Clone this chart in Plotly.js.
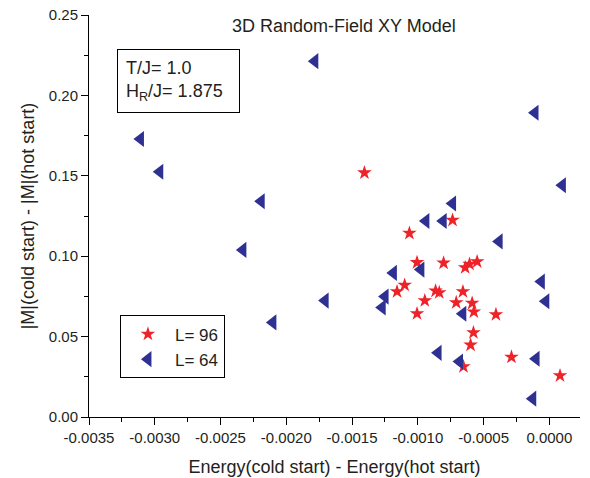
<!DOCTYPE html>
<html>
<head>
<meta charset="utf-8">
<script src="https://cdn.plot.ly/plotly-3.0.1.min.js"></script>
<style>
  html, body { margin: 0; padding: 0; background: #fff; }
  #chart { width: 590px; height: 478px; }
</style>
</head>
<body>
<div id="chart"></div>
<script>
// L = 96 (red stars)
const x96 = [-0.001406, -0.000736, -0.001064, -0.001006, -0.000804, -0.000640, -0.000607, -0.000549,
             -0.001100, -0.001158, -0.000865, -0.000837, -0.000657, -0.000947, -0.000708, -0.000587,
             -0.001006, -0.000574, -0.000406, -0.000577, -0.000599, -0.000288, -0.000653, 0.000081];
const y96 = [0.1519, 0.1224, 0.1143, 0.0961, 0.0958, 0.0929, 0.0951, 0.0966,
             0.0820, 0.0780, 0.0784, 0.0774, 0.0780, 0.0724, 0.0712, 0.0708,
             0.0643, 0.0654, 0.0637, 0.0525, 0.0448, 0.0373, 0.0314, 0.0257];

// L = 64 (blue left triangles)
const x64 = [-0.001783, -0.000109, -0.003109, -0.002962, 0.000099, -0.002191, -0.000736, -0.000939,
             -0.000807, -0.000382, -0.002330, -0.000977, -0.001186, -0.000061, -0.001705, -0.001249,
             -0.001271, -0.000027, -0.000658, -0.002102, -0.000846, -0.000101, -0.000683, -0.000126];
const y64 = [0.2213, 0.1892, 0.1729, 0.1525, 0.1441, 0.1342, 0.1328, 0.1219,
             0.1219, 0.1092, 0.1039, 0.0917, 0.0896, 0.0842, 0.0724, 0.0749,
             0.0681, 0.0720, 0.0642, 0.0588, 0.0399, 0.0362, 0.0345, 0.0114];

const seriesNames = ['L= 96', 'L= 64'];
const xTickVals = [-0.0035, -0.0030, -0.0025, -0.0020, -0.0015, -0.0010, -0.0005, 0.0000];
const xTickText = ['-0.0035', '-0.0030', '-0.0025', '-0.0020', '-0.0015', '-0.0010', '-0.0005', '0.0000'];
const yTickVals = [0.00, 0.05, 0.10, 0.15, 0.20, 0.25];
const yTickText = ['0.00', '0.05', '0.10', '0.15', '0.20', '0.25'];

const FONT = '"Liberation Sans", Arial, Helvetica, sans-serif';
const INK = '#231f20';

const traces = [
  {
    x: x96, y: y96, name: seriesNames[0], type: 'scatter', mode: 'markers',
    marker: { symbol: 'star', size: 11, color: '#ee2229', line: { width: 0 } }
  },
  {
    x: x64, y: y64, name: seriesNames[1], type: 'scatter', mode: 'markers',
    marker: { symbol: 'triangle-left', size: 14, color: '#2e3192', line: { width: 0 } }
  }
];

const layout = {
  width: 590, height: 478,
  margin: { l: 89, r: 10, t: 15, b: 61 },
  paper_bgcolor: '#fff', plot_bgcolor: '#fff',
  font: { family: FONT, color: INK, size: 15 },
  title: {
    text: '3D Random-Field XY Model',
    font: { family: FONT, size: 18, color: INK },
    xref: 'paper', yref: 'paper', x: 0.519, y: 0.973, xanchor: 'center', yanchor: 'middle'
  },
  showlegend: true,
  legend: {
    x: 0.063, y: 0.2525, xanchor: 'left', yanchor: 'top',
    bgcolor: '#fff', bordercolor: '#000', borderwidth: 1,
    font: { family: FONT, size: 17, color: INK },
    itemwidth: 44
  },
  xaxis: {
    range: [-0.0035, 0.000233],
    tickmode: 'array', tickvals: xTickVals, ticktext: xTickText,
    ticks: 'outside', ticklen: 7, tickwidth: 1, tickcolor: '#000',
    minor: { dtick: 0.00025, ticks: 'outside', ticklen: 4, tickwidth: 1, tickcolor: '#000' },
    showline: true, linecolor: '#000', linewidth: 1,
    showgrid: false, zeroline: false,
    tickfont: { family: FONT, size: 15, color: INK },
    title: { text: 'Energy(cold start) - Energy(hot start)', font: { family: FONT, size: 18, color: INK }, standoff: 15 }
  },
  yaxis: {
    range: [0, 0.25],
    tickmode: 'array', tickvals: yTickVals, ticktext: yTickText,
    ticks: 'outside', ticklen: 7, tickwidth: 1, tickcolor: '#000',
    minor: { dtick: 0.025, ticks: 'outside', ticklen: 4, tickwidth: 1, tickcolor: '#000' },
    showline: true, linecolor: '#000', linewidth: 1,
    showgrid: false, zeroline: false,
    tickfont: { family: FONT, size: 15, color: INK },
    title: { text: '|M|(cold start) - |M|(hot start)', font: { family: FONT, size: 18, color: INK }, standoff: 9 }
  },
  annotations: [
    {
      xref: 'paper', yref: 'paper', x: 0.0563, y: 0.9147, xanchor: 'left', yanchor: 'top',
      text: 'T/J= 1.0<br>H<sub>R</sub>/J= 1.875',
      align: 'left', showarrow: false, width: 105, height: 46,
      font: { family: FONT, size: 18, color: INK },
      bordercolor: '#000', borderwidth: 1, borderpad: 8, bgcolor: '#fff'
    }
  ]
};

Plotly.newPlot('chart', traces, layout, { displayModeBar: false, staticPlot: true });
</script>
</body>
</html>
